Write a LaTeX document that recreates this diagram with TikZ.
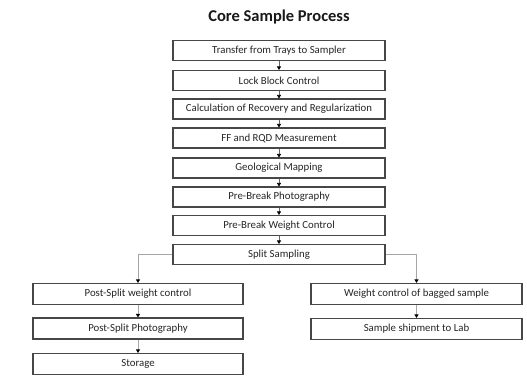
\documentclass[tikz,border=0pt]{standalone}
\usepackage{fontspec}
\setmainfont{Carlito}
\usetikzlibrary{arrows.meta}
\begin{document}
\begin{tikzpicture}[x=1pt,y=-1pt,
  box/.style={draw=black!72,line width=1.1pt,fill=white,minimum height=20pt,inner sep=0pt,
    font=\fontsize{10.8}{12}\selectfont,text=black!85},
  mainbox/.style={box,minimum width=212pt},
  sidebox/.style={box,minimum width=210pt},
  flow/.style={draw=black!60,line width=0.6pt,-{Triangle[length=3.5pt,width=4pt,color=black]}},
  branch/.style={draw=black!35,line width=0.9pt,-{Triangle[length=3.5pt,width=4pt,color=black]}}]
\useasboundingbox (0,0) rectangle (527,381);
\node[font=\fontsize{16.5}{18}\selectfont\bfseries,text=black!90] (title) at (279,17) {Core Sample Process};
\node[mainbox] (m1) at (279,50.5) {Transfer from Trays to Sampler};
\node[mainbox] (m2) at (279,80.5) {Lock Block Control};
\node[mainbox] (m3) at (279,109) {Calculation of Recovery and Regularization};
\node[mainbox] (m4) at (279,138) {FF and RQD Measurement};
\node[mainbox] (m5) at (279,168) {Geological Mapping};
\node[mainbox] (m6) at (279,197) {Pre-Break Photography};
\node[mainbox] (m7) at (279,225.5) {Pre-Break Weight Control};
\node[mainbox] (m8) at (279,254.5) {Split Sampling};
\node[sidebox,minimum height=21pt] (l1) at (138,294) {Post-Split weight control};
\node[sidebox,minimum height=21pt] (l2) at (138,328.5) {Post-Split Photography};
\node[sidebox,minimum height=21pt] (l3) at (138,364) {Storage};
\node[sidebox,minimum width=211pt,minimum height=21pt] (r1) at (416.5,294) {Weight control of bagged sample};
\node[sidebox,minimum width=211pt,minimum height=21pt] (r2) at (416.5,329) {Sample shipment to Lab};
\foreach \a/\b in {m1/m2,m2/m3,m3/m4,m4/m5,m5/m6,m6/m7,m7/m8}
  \draw[flow] (\a) -- (\b);
\draw[branch] (m8.west) -| (l1.north);
\draw[branch] (m8.east) -| (r1.north);
\draw[branch] (l1) -- (l2);
\draw[branch] (l2) -- (l3);
\draw[branch] (r1) -- (r2);
\end{tikzpicture}
\end{document}
